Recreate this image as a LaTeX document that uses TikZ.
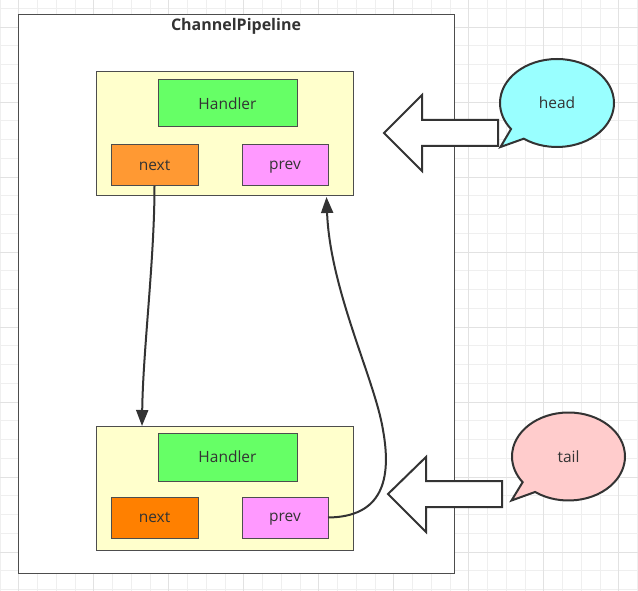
\documentclass[tikz,border=0pt]{standalone}
\usepackage{fontspec}
\setmainfont{Open Sans}
\usetikzlibrary{shapes.callouts,arrows.meta}
\definecolor{txt}{HTML}{333333}
\definecolor{edge}{HTML}{4D4D4D}
\definecolor{gminor}{HTML}{EFEFEF}
\definecolor{gmajor}{HTML}{E2E2E2}
\definecolor{ybox}{HTML}{FFFFCC}
\definecolor{hgreen}{HTML}{66FF66}
\definecolor{nexta}{HTML}{FF9933}
\definecolor{nextb}{HTML}{FF8000}
\definecolor{pink}{HTML}{FF99FF}
\definecolor{cyanb}{HTML}{99FFFF}
\definecolor{rosey}{HTML}{FFCCCC}
\begin{document}
\begin{tikzpicture}[x=1pt,y=-1pt,
  lbl/.style={font=\fontsize{15.5}{19}\selectfont, text=txt, text depth=0pt},
  boxst/.style={draw=edge, line width=1pt, outer sep=0pt, inner sep=0pt},
  container/.style={boxst, fill=ybox, minimum width=257pt, minimum height=124pt},
  handler/.style={boxst, lbl, fill=hgreen, minimum width=139pt, minimum height=47pt},
  ptr/.style={boxst, lbl, minimum width=87pt, minimum height=41pt},
  conn/.style={draw=txt, line width=2pt, -{Triangle[length=16pt,width=12pt]}},
  blockarrow/.style={draw=txt, line width=2pt, fill=white, line join=miter},
  bubble/.style={ellipse callout, draw=txt, line width=2pt, lbl, inner sep=0pt,
    minimum width=114pt, minimum height=88pt, callout pointer arc=18}
]
\useasboundingbox (0,0) rectangle (638,591);
\fill[white] (0,0) rectangle (638,591);
% grid
\foreach \i in {0,...,34} \draw[gminor, line width=1pt] (\i*18.75,0) -- (\i*18.75,591);
\foreach \j in {0,...,31} \draw[gminor, line width=1pt] (0,8.3+\j*18.75) -- (638,8.3+\j*18.75);
\foreach \i in {0,...,8} \draw[gmajor, line width=1pt] (18.75+\i*75,0) -- (18.75+\i*75,591);
\foreach \j in {0,...,7} \draw[gmajor, line width=1pt] (0,27.05+\j*75) -- (638,27.05+\j*75);

% outer pipeline frame
\node[boxst, fill=white, minimum width=436pt, minimum height=558pt] (pipe) at (236,294) {};
\node[font=\bfseries\fontsize{16}{19}\selectfont, text=txt, text depth=0pt] (title) at (236,24) {ChannelPipeline};

% upper handler context
\node[container] (boxA) at (224.5,134) {};
\node[handler] (handA) at (227.5,103.5) {Handler};
\node[ptr, fill=nexta] (nextA) at (154.5,165.5) {next};
\node[ptr, fill=pink, minimum width=86pt] (prevA) at (285,165.5) {prev};

% lower handler context
\node[container] (boxB) at (224.5,488) {};
\node[handler, minimum height=48pt] (handB) at (227.5,457) {Handler};
\node[ptr, fill=nextb] (nextB) at (154.5,517.5) {next};
\node[ptr, fill=pink, minimum width=86pt] (prevB) at (285,517.5) {prev};

% connectors
\coordinate (nAend) at (142,426);
\coordinate (pAend) at (326.5,197);
\draw[conn] (nextA.south) .. controls (154.5,260) and (143,350) .. (nAend);
\draw[conn] (prevB.east) .. controls (382,517) and (392,480) .. (383,430)
  .. controls (375,380) and (330,290) .. (pAend);

% block arrows
\draw[blockarrow] (498,120) -- (422,120) -- (422,95) -- (384,133) -- (422,171) -- (422,146) -- (498,146) -- cycle;
\draw[blockarrow] (502,481) -- (426,481) -- (426,457) -- (388,494) -- (426,532) -- (426,507) -- (502,507) -- cycle;

% callouts
\node[bubble, fill=cyanb, callout absolute pointer={(500.5,147)}] (head) at (557,103) {head};
\node[bubble, fill=rosey, callout absolute pointer={(511.5,500.5)}, minimum width=113pt] (tail) at (568.5,456.5) {tail};
\end{tikzpicture}
\end{document}
